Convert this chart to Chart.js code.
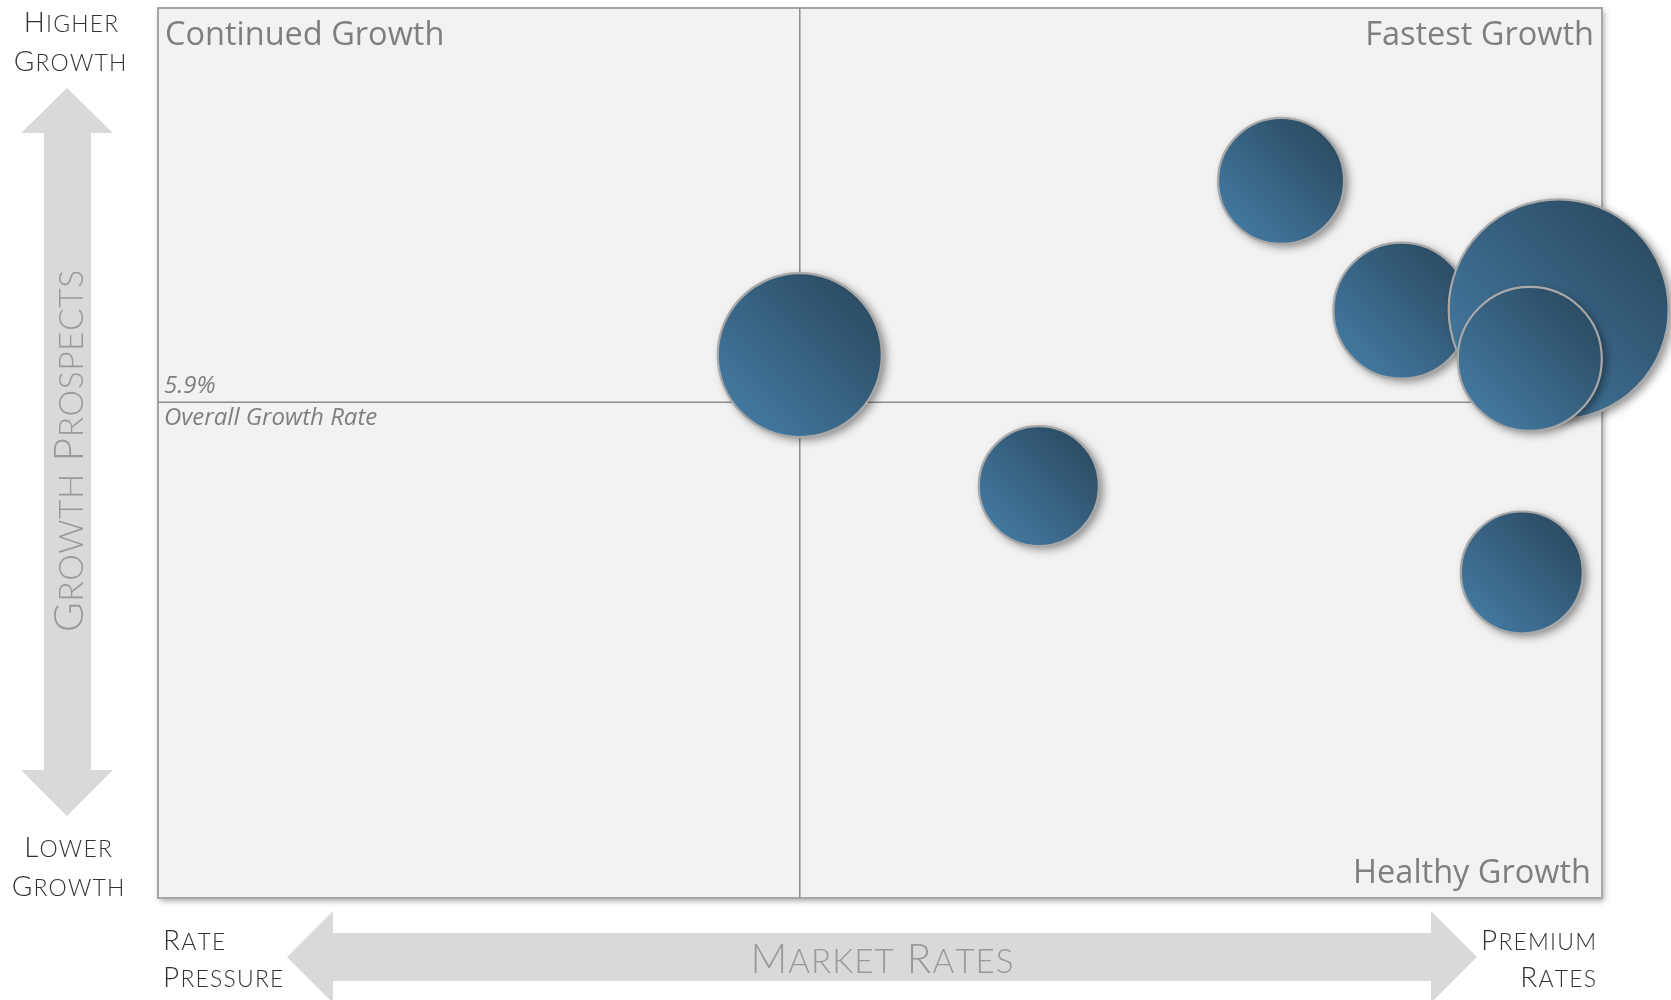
<!DOCTYPE html>
<html lang="en">
<head>
<meta charset="UTF-8">
<title>Growth Prospects vs Market Rates</title>
<script src="https://cdn.jsdelivr.net/npm/chart.js"></script>
<style>
  html, body { margin: 0; padding: 0; background: #fff; }
</style>
</head>
<body>
<canvas id="myChart" width="1671" height="1000"></canvas>
<script>
// segments (x = market rate position, y = growth %)
const marketRate = [0.0, 1.49, 3.0, 3.75, 4.73, 4.55, 4.50];
const growthRate = [6.27, 5.24, 7.64, 6.62, 6.63, 6.24, 4.56];
const bubbleSize = [82, 60, 63, 68, 110, 72, 61];

const overallGrowth = 5.9;   // horizontal split
const rateSplit = 0;         // vertical split
const xRange = [-4, 5];
const yRange = [2, 9];

const quadrantTitles = ['Continued Growth', 'Fastest Growth', 'Healthy Growth'];

let points = [];
for (let i = 0; i < marketRate.length; i++) {
    points.push({ x: marketRate[i], y: growthRate[i], r: bubbleSize[i] });
}

// small caps by hand: capitals full size, lower case as smaller capitals
function drawCaps(ctx, text, x, y, size, align, spacing) {
    let small = size * 0.82;
    let parts = [];
    let total = 0;
    for (const ch of text) {
        let lower = ch !== ch.toUpperCase();
        let p = { ch: ch.toUpperCase(), size: lower ? small : size };
        ctx.font = '300 ' + p.size + 'px Lato';
        p.w = ctx.measureText(p.ch).width;
        total += p.w;
        parts.push(p);
    }
    total += spacing * (parts.length - 1);
    let cx = x;
    if (align === 'center') cx = x - total / 2;
    if (align === 'right') cx = x - total;
    ctx.textAlign = 'left';
    parts.forEach(function(p) {
        ctx.font = '300 ' + p.size + 'px Lato';
        ctx.fillText(p.ch, cx, y);
        cx += p.w + spacing;
    });
}

// background panel, split lines, titles, arrows
const backdrop = {
    id: 'backdrop',
    beforeDatasetsDraw(chart) {
        const ctx = chart.ctx;
        const a = chart.chartArea;
        const sx = chart.scales.x, sy = chart.scales.y;
        ctx.save();

        ctx.shadowColor = 'rgba(0,0,0,0.35)';
        ctx.shadowBlur = 6;
        ctx.shadowOffsetX = 2;
        ctx.shadowOffsetY = 3;
        ctx.fillStyle = '#f2f2f2';
        ctx.fillRect(a.left, a.top, a.right - a.left, a.bottom - a.top);
        ctx.shadowColor = 'transparent';
        ctx.strokeStyle = '#a6a6a6';
        ctx.lineWidth = 2;
        ctx.strokeRect(a.left, a.top, a.right - a.left, a.bottom - a.top);

        let px = sx.getPixelForValue(rateSplit);
        let py = sy.getPixelForValue(overallGrowth);
        ctx.strokeStyle = '#8c8c8c';
        ctx.lineWidth = 1.5;
        ctx.beginPath();
        ctx.moveTo(px, a.top); ctx.lineTo(px, a.bottom);
        ctx.moveTo(a.left, py); ctx.lineTo(a.right, py);
        ctx.stroke();

        ctx.fillStyle = '#7f7f7f';
        ctx.font = '32.5px "Open Sans"';
        ctx.textBaseline = 'alphabetic';
        ctx.textAlign = 'left';
        ctx.fillText(quadrantTitles[0], a.left + 7, a.top + 37);
        ctx.textAlign = 'right';
        ctx.fillText(quadrantTitles[1], a.right - 8, a.top + 37);
        ctx.fillText(quadrantTitles[2], a.right - 11, a.bottom - 15);

        ctx.font = 'italic 24px "Open Sans"';
        ctx.textAlign = 'left';
        ctx.fillText(overallGrowth.toFixed(1) + '%', a.left + 6, py - 9);
        ctx.fillText('Overall Growth Rate', a.left + 6, py + 23);

        ctx.restore();
    },
    beforeDraw(chart) {
        const ctx = chart.ctx;
        ctx.save();
        ctx.fillStyle = '#d9d9d9';

        // vertical arrow
        let cx = 67;
        ctx.beginPath();
        ctx.moveTo(cx, 88);
        ctx.lineTo(cx + 46, 133);
        ctx.lineTo(cx + 24, 133);
        ctx.lineTo(cx + 24, 770);
        ctx.lineTo(cx + 46, 770);
        ctx.lineTo(cx, 816);
        ctx.lineTo(cx - 46, 770);
        ctx.lineTo(cx - 23, 770);
        ctx.lineTo(cx - 23, 133);
        ctx.lineTo(cx - 46, 133);
        ctx.closePath();
        ctx.fill();

        // horizontal arrow
        let cy = 957;
        ctx.beginPath();
        ctx.moveTo(287, cy);
        ctx.lineTo(333, cy - 46);
        ctx.lineTo(333, cy - 24);
        ctx.lineTo(1431, cy - 24);
        ctx.lineTo(1431, cy - 46);
        ctx.lineTo(1477, cy);
        ctx.lineTo(1431, cy + 46);
        ctx.lineTo(1431, cy + 24);
        ctx.lineTo(333, cy + 24);
        ctx.lineTo(333, cy + 46);
        ctx.closePath();
        ctx.fill();

        // arrow captions
        ctx.fillStyle = '#999999';
        ctx.textBaseline = 'alphabetic';
        drawCaps(ctx, 'Market Rates', 882, 973, 40.5, 'center', 1);
        ctx.save();
        ctx.translate(83, 451);
        ctx.rotate(-Math.PI / 2);
        drawCaps(ctx, 'Growth Prospects', 0, 0, 41, 'center', 0.5);
        ctx.restore();

        // end labels
        ctx.fillStyle = '#333333';
        drawCaps(ctx, 'Higher', 71, 32, 28, 'center', 1.2);
        drawCaps(ctx, 'Growth', 70, 71, 28, 'center', 1.2);
        drawCaps(ctx, 'Lower', 68, 857, 28, 'center', 1.2);
        drawCaps(ctx, 'Growth', 68, 896, 28, 'center', 1.2);
        drawCaps(ctx, 'Rate', 163, 950, 28, 'left', 1.2);
        drawCaps(ctx, 'Pressure', 163, 987, 28, 'left', 1.2);
        drawCaps(ctx, 'Premium', 1596, 950, 28, 'right', 1.2);
        drawCaps(ctx, 'Rates', 1596, 987, 28, 'right', 1.2);
        ctx.restore();
    }
};

// bubbles with shadow + diagonal gradient, at the positions the chart computed
const shadedBubbles = {
    id: 'shadedBubbles',
    afterDatasetsDraw(chart) {
        const ctx = chart.ctx;
        const meta = chart.getDatasetMeta(0);
        meta.data.forEach(function(pt) {
            let r = pt.options.radius;
            let x = pt.x, y = pt.y;
            ctx.save();
            ctx.beginPath();
            ctx.arc(x, y, r, 0, Math.PI * 2);
            let g = ctx.createLinearGradient(x - r * 0.7, y + r * 0.7, x + r * 0.7, y - r * 0.7);
            g.addColorStop(0, '#43779e');
            g.addColorStop(1, '#2c4d65');
            ctx.shadowColor = 'rgba(0,0,0,0.45)';
            ctx.shadowBlur = 10;
            ctx.shadowOffsetX = 4;
            ctx.shadowOffsetY = 3;
            ctx.fillStyle = g;
            ctx.fill();
            ctx.shadowColor = 'transparent';
            ctx.lineWidth = 2.2;
            ctx.strokeStyle = '#a8a8a8';
            ctx.stroke();
            ctx.restore();
        });
    }
};

new Chart(document.getElementById('myChart'), {
    type: 'bubble',
    data: {
        datasets: [{
            data: points,
            backgroundColor: 'transparent',
            borderWidth: 0,
            clip: false
        }]
    },
    options: {
        responsive: false,
        animation: false,
        events: [],
        layout: { autoPadding: false, padding: { left: 158, top: 8, right: 69, bottom: 102 } },
        plugins: { legend: { display: false }, tooltip: { enabled: false } },
        scales: {
            x: { type: 'linear', min: xRange[0], max: xRange[1], display: false },
            y: { type: 'linear', min: yRange[0], max: yRange[1], display: false }
        }
    },
    plugins: [backdrop, shadedBubbles]
});
</script>
</body>
</html>
